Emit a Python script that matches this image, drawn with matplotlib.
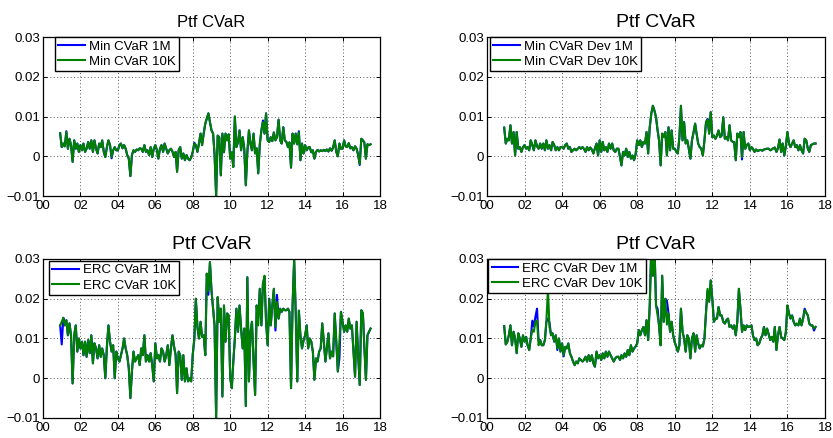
import pandas as pd
import matplotlib
matplotlib.use("Agg")
import matplotlib.pyplot as plt
import matplotlib.dates as mdates
import matplotlib.ticker as mticker
from datetime import datetime

plt.rcParams['font.family'] = ['Liberation Sans', 'DejaVu Sans']

# Monthly observations, Dec 2000 .. Jul 2017
dates = pd.date_range('2000-12-01', periods=200, freq='MS')
SCALE = 1e-3  # series are stored in units of 0.001

min_cvar_1m = [
    5.8,
    2.3, 3.2, 2.5, 6.3, 1.9, 4.4, 2.8, -1.4, 4.0, 1.9, 3.2, 1.1,
    2.8, 1.5, 3.2, 1.1, 1.9, 3.6, 1.9, 4.0, 1.1, 4.0, 1.9, 0.7,
    3.2, 2.3, 4.0, 1.1, -0.2, 2.3, 4.0, 2.8, -0.5, 1.5, 2.3, 1.5,
    1.5, 2.8, 3.2, 2.0, 2.8, 1.9, 0.3, -0.6, -5.0, 0.3, 1.5, 1.1,
    1.7, 1.5, 2.0, 1.9, 1.1, 2.8, 1.1, 1.5, 0.3, 2.3, -0.2, 1.9,
    2.8, 1.5, -0.6, 1.9, 2.8, 1.1, 3.2, 1.9, 0.7, 1.5, 1.9, 1.2,
    -0.2, 1.1, -3.9, 1.5, 2.3, -0.6, 0.7, -1.0, 0.3, -0.6, -1.0, -0.3,
    1.1, 3.4, 2.8, 1.1, 3.2, 5.7, 2.8, 5.7, 8.2, 9.5, 10.8, 8.6,
    6.5, 5.7, 0.5, -10.0, 5.2, 4.8, -4.8, 5.7, 1.0, 5.7, 4.0, 5.5,
    -0.6, 1.0, -2.7, 10.0, 2.3, 3.5, 6.5, 1.5, 4.8, 2.0, -7.3, 1.0,
    6.5, 3.0, 1.5, 5.7, 0.7, 2.0, -4.3, 3.0, 6.5, 9.0, 5.7, 10.8,
    4.0, 3.6, 4.8, 3.8, 6.0, 4.0, 4.8, 9.2, 4.0, 3.2, 7.3, 4.0,
    3.6, 2.3, 3.5, -2.9, 5.7, 3.2, 5.7, 3.0, 6.3, -1.0, 3.2, 0.7,
    2.8, 1.5, 2.2, 2.3, 1.0, 1.5, -0.6, 1.1, 1.6, 1.2, 1.5, 1.3,
    1.6, 1.3, 1.7, 1.2, 2.0, 1.4, 2.2, 4.0, 1.1, 0.0, 3.2, 1.9,
    1.9, 4.0, 2.5, 2.3, 3.3, 2.0, 2.3, 1.5, 2.5, 1.9, 0.3, -2.2,
    4.4, 4.0, 3.5, -0.6, 3.0, 2.8, 3.0,
]
min_cvar_10k = [
    5.8,
    2.3, 3.2, 2.5, 6.1, 1.9, 4.4, 2.8, -1.4, 4.0, 1.9, 3.2, 1.1,
    2.8, 1.5, 3.2, 1.1, 1.9, 3.6, 1.9, 4.0, 1.1, 4.0, 1.9, 0.7,
    3.2, 2.3, 4.0, 1.1, -0.2, 2.3, 4.0, 2.8, -0.2, 1.5, 2.3, 1.5,
    1.5, 2.8, 3.2, 2.0, 2.8, 1.9, 0.3, -0.6, -5.0, 0.3, 1.5, 1.1,
    1.7, 1.5, 2.0, 1.9, 1.1, 2.8, 1.1, 1.5, 0.3, 2.3, -0.2, 1.9,
    2.8, 1.5, -0.6, 1.9, 2.8, 1.1, 3.2, 1.9, 0.7, 1.5, 1.9, 1.2,
    -0.2, 1.1, -3.9, 1.5, 2.3, -0.6, 0.7, -1.0, 0.3, -0.6, -1.0, -0.3,
    1.1, 3.2, 2.8, 1.1, 3.2, 5.7, 2.8, 5.7, 8.2, 9.5, 10.8, 8.6,
    6.5, 5.7, 0.5, -10.0, 5.2, 4.8, -4.8, 5.7, 1.0, 5.7, 4.0, 5.5,
    -0.6, 1.0, -2.7, 10.0, 2.3, 3.5, 6.5, 1.5, 4.8, 2.0, -7.3, 1.0,
    6.5, 3.0, 1.5, 5.7, 0.7, 2.0, -4.3, 3.0, 6.5, 8.6, 5.7, 10.8,
    4.0, 3.6, 4.8, 3.8, 6.0, 4.0, 4.8, 9.2, 4.0, 3.2, 7.3, 4.0,
    3.6, 2.3, 3.5, -2.7, 5.7, 3.2, 5.7, 3.0, 6.0, -1.0, 3.2, 0.7,
    2.8, 1.5, 2.2, 2.3, 1.0, 1.5, -0.6, 1.1, 1.6, 1.2, 1.5, 1.3,
    1.6, 1.3, 1.7, 1.2, 2.0, 1.4, 2.2, 4.0, 1.1, 0.0, 3.2, 1.9,
    1.9, 4.0, 2.5, 2.3, 3.3, 2.0, 2.3, 1.5, 2.5, 1.9, 0.3, -2.0,
    4.4, 4.0, 3.5, -0.6, 3.0, 2.8, 3.0,
]

min_cvar_dev_1m = [
    7.2,
    3.2, 4.4, 4.0, 7.8, 3.2, 6.1, 0.2, 6.1, 1.9, 2.3, 1.1, 2.3,
    2.8, 1.9, 2.3, 1.5, 4.0, 2.8, 1.5, 4.0, 2.5, 1.9, 3.2, 1.9,
    3.2, 1.5, 4.0, 1.9, 2.8, 1.5, 3.6, 2.8, 1.5, 2.3, 1.5, 2.3,
    2.3, 1.9, 2.8, 3.2, 1.9, 2.3, 1.1, 1.5, 1.9, 1.5, 1.9, 2.3,
    1.9, 2.3, 1.9, 1.1, 2.3, 1.5, 2.2, 1.7, 0.7, 2.0, 3.2, 0.2,
    4.0, 1.1, 3.6, 1.5, 2.3, 1.1, 3.2, 1.9, 3.2, 1.5, 1.1, 1.9,
    1.9, -0.2, -2.3, 1.1, 0.2, 1.9, -0.2, 1.1, -0.6, 0.2, -1.0, 0.5,
    4.0, 2.8, 4.0, 2.3, 3.6, 3.2, 6.1, 0.7, 7.3, 10.7, 12.7, 11.5,
    9.8, 6.5, 4.0, -2.3, 5.7, 4.8, 6.1, 0.2, 7.3, 1.5, 6.5, 1.9,
    1.9, 1.1, 0.7, 4.8, 12.7, 4.0, 8.6, 3.2, 4.0, 1.9, -0.6, 4.0,
    6.0, 8.2, 5.7, 3.2, 2.3, 1.9, 0.2, 4.0, 8.6, 9.4, 5.7, 11.1,
    4.8, 5.2, 4.4, 5.2, 6.5, 4.8, 5.2, 9.8, 4.4, 4.8, 4.0, 7.8,
    4.0, 3.6, 3.6, -1.0, 5.7, 4.8, 6.1, -0.8, 6.1, 1.9, 2.8, 3.2,
    1.5, 2.3, 1.9, 1.1, 1.7, 1.3, 1.5, 1.6, 1.4, 1.7, 1.8, 1.9,
    1.9, 1.5, 1.7, 2.0, 2.2, 1.1, 2.0, 4.2, 1.1, 3.2, 0.2, 2.5,
    6.1, 3.2, 2.3, 3.2, 4.0, 2.3, 2.8, 1.5, 2.8, 1.5, 0.7, 4.4,
    4.0, 1.9, 1.1, 2.8, 3.0, 3.2, 3.2,
]
min_cvar_dev_10k = [
    7.2,
    3.2, 4.4, 4.0, 7.8, 3.2, 6.1, 0.2, 6.1, 1.9, 2.3, 1.1, 2.3,
    2.8, 1.9, 2.3, 1.5, 4.0, 2.8, 1.5, 4.0, 2.5, 1.9, 3.2, 1.9,
    3.2, 1.5, 4.0, 1.9, 2.8, 1.5, 3.6, 2.8, 1.5, 2.3, 1.5, 2.3,
    2.3, 1.9, 2.8, 3.2, 1.9, 2.3, 1.1, 1.5, 1.9, 1.5, 1.9, 2.3,
    1.9, 2.3, 1.9, 1.1, 2.3, 1.5, 2.2, 1.7, 0.7, 2.0, 3.2, 0.2,
    4.0, 1.1, 3.6, 1.5, 2.3, 1.1, 3.2, 1.9, 3.2, 1.5, 1.1, 1.9,
    1.9, -0.2, -2.3, 1.1, 0.2, 1.9, -0.2, 1.1, -0.6, 0.2, -1.0, 0.5,
    4.0, 2.8, 4.0, 2.3, 3.6, 3.2, 6.1, 0.7, 7.3, 10.7, 12.7, 11.5,
    9.8, 6.5, 4.0, -2.3, 5.7, 4.8, 6.1, 0.2, 7.3, 1.5, 6.5, 1.9,
    1.9, 1.1, 0.7, 4.8, 12.7, 4.0, 8.6, 3.2, 4.0, 1.9, -0.6, 4.0,
    6.0, 8.2, 5.7, 3.2, 2.3, 1.9, 0.2, 4.0, 8.6, 9.2, 5.7, 11.1,
    4.8, 5.2, 4.4, 5.2, 6.5, 4.8, 5.2, 9.8, 4.4, 4.8, 4.0, 7.8,
    4.0, 3.6, 3.6, -1.0, 5.7, 4.8, 6.1, -0.2, 6.1, 1.9, 2.8, 3.2,
    1.5, 2.3, 1.9, 1.1, 1.7, 1.3, 1.5, 1.6, 1.4, 1.7, 1.8, 1.9,
    1.9, 1.5, 1.7, 2.0, 2.2, 1.1, 2.0, 4.2, 1.1, 3.2, 0.2, 2.5,
    6.1, 3.2, 2.3, 3.2, 4.0, 2.3, 2.8, 1.5, 2.8, 1.5, 0.7, 4.4,
    4.0, 1.9, 1.1, 2.8, 3.0, 3.2, 3.2,
]

erc_cvar_1m = [
    13.3,
    8.5, 15.2, 13.3, 14.6, 10.8, 13.8, 10.8, -1.3, 10.8, 13.3, 6.7, 10.0,
    7.5, 9.2, 5.8, 9.2, 5.4, 9.6, 6.3, 10.8, 3.75, 8.8, 7.5, 5.0,
    8.3, 5.4, 7.5, 5.8, 0.0, 8.0, 13.3, 9.2, 6.7, 8.3, 0.0, 6.7,
    5.0, 4.2, 5.8, 7.5, 10.0, 7.5, 5.8, 2.5, -5.0, 1.7, 6.7, 4.2,
    5.0, 5.8, 3.3, 7.5, 5.8, 10.8, 4.2, 5.8, 4.2, 6.3, 3.3, -0.8,
    8.8, 5.0, 5.8, 4.2, 7.5, 6.7, 4.2, 5.8, 8.3, 3.3, 7.5, 10.8,
    8.0, 5.8, -3.75, 6.7, 5.8, -0.4, 5.8, -0.8, 2.5, -0.8, 0.0, -0.8,
    6.0, 10.0, 20.0, 12.9, 10.0, 14.2, 10.4, 10.8, 5.8, 26.3, 21.0, 29.2,
    22.0, 17.5, 13.3, -10.0, 20.4, 14.2, 17.5, -4.6, 18.3, 9.2, 16.3, 15.8,
    0.0, -2.5, 4.0, 10.0, 17.5, 11.7, 18.3, 12.5, 7.5, 12.5, -7.0, 25.4,
    -0.8, 11.7, 14.2, 4.2, -4.2, 18.3, 15.0, 22.5, 13.3, 23.8, 25.3, 14.2,
    8.3, 20.0, 13.3, 18.3, 22.5, 12.0, 21.0, 15.0, 17.5, 16.7, 17.5, 17.1,
    17.1, 17.5, 16.7, -2.5, 18.3, 30.0, 16.7, -0.8, 17.0, 10.8, 7.5, 9.5,
    10.8, 13.3, 7.5, 10.0, 9.2, 6.7, -0.4, 5.0, 4.2, 6.7, 7.5, 13.8,
    9.2, 4.2, 7.5, 11.3, 5.0, 6.7, 5.5, 16.3, 9.2, 1.7, 5.0, 16.7,
    14.2, 11.7, 13.3, 11.7, 15.0, 12.5, 13.3, 7.0, 0.4, 14.2, 5.8, -1.7,
    17.1, 16.3, 8.0, -0.4, 10.8, 11.7, 12.5,
]
erc_cvar_10k = [
    13.3,
    14.2, 15.2, 13.3, 14.6, 10.8, 13.8, 10.8, -1.3, 10.8, 13.3, 6.7, 10.0,
    7.5, 9.2, 5.8, 9.2, 5.4, 9.6, 6.3, 10.8, 3.75, 8.8, 7.5, 5.0,
    8.3, 5.4, 7.5, 5.8, 0.0, 8.0, 13.3, 9.2, 6.7, 8.3, 0.0, 6.7,
    5.0, 4.2, 5.8, 7.5, 10.0, 7.5, 5.8, 2.5, -5.0, 1.7, 6.7, 4.2,
    5.0, 5.8, 3.3, 7.5, 5.8, 10.8, 4.2, 5.8, 4.2, 6.3, 3.3, -0.8,
    8.8, 5.0, 5.8, 4.2, 7.5, 6.7, 4.2, 5.8, 8.3, 3.3, 7.5, 10.8,
    8.0, 5.8, -3.75, 6.7, 5.8, -0.4, 5.8, -0.8, 2.5, -0.8, 0.0, -0.8,
    6.0, 10.0, 20.0, 12.9, 10.0, 14.2, 10.4, 10.8, 5.8, 26.3, 22.0, 29.2,
    22.0, 17.5, 13.3, -10.0, 20.4, 14.2, 17.5, -4.6, 18.3, 9.2, 16.3, 15.8,
    0.0, -2.5, 4.0, 10.0, 17.5, 11.7, 18.3, 12.5, 7.5, 12.5, -7.0, 25.4,
    -0.8, 11.7, 14.2, 4.2, -4.2, 18.3, 13.3, 22.5, 13.3, 23.8, 25.8, 14.2,
    8.3, 20.0, 13.3, 18.3, 22.5, 12.9, 19.2, 15.0, 17.5, 16.7, 17.5, 17.1,
    17.1, 17.5, 16.7, -2.5, 18.3, 30.0, 16.7, -0.8, 17.0, 10.8, 7.5, 9.5,
    10.8, 13.3, 7.5, 10.0, 9.2, 6.7, -0.4, 5.0, 4.2, 6.7, 7.5, 13.8,
    9.2, 4.2, 7.5, 11.3, 5.0, 6.7, 5.5, 16.3, 9.2, 1.7, 9.2, 16.7,
    14.2, 11.7, 13.3, 11.7, 15.0, 12.5, 13.3, 7.0, 0.4, 14.2, 5.8, -1.7,
    17.1, 16.3, 8.0, -0.4, 10.8, 11.7, 12.5,
]

erc_cvar_dev_1m = [
    13.1,
    8.5, 9.2, 10.8, 13.3, 8.3, 11.7, 10.0, 6.3, 11.3, 10.0, 7.9, 10.8,
    9.2, 10.4, 8.3, 7.1, 10.0, 14.5, 13.0, 15.5, 17.5, 9.5, 9.6, 8.3,
    8.3, 9.6, 14.2, 15.0, 14.0, 10.8, 11.3, 9.2, 10.8, 7.1, 10.0, 6.7,
    8.75, 5.5, 7.9, 7.5, 8.75, 6.3, 5.4, 4.2, 3.3, 4.2, 3.75, 5.0,
    4.6, 4.2, 4.6, 5.4, 4.2, 5.8, 4.3, 5.8, 3.75, 2.9, 6.7, 5.0,
    5.8, 4.6, 6.25, 5.0, 6.7, 5.4, 6.7, 5.8, 5.0, 4.2, 5.0, 5.4,
    5.4, 4.6, 5.8, 5.0, 6.25, 5.4, 7.1, 5.8, 8.3, 6.7, 7.5, 8.0,
    8.75, 12.1, 10.8, 12.1, 12.9, 10.8, 14.6, 9.6, 18.3, 33.0, 25.8, 34.0,
    18.3, 17.5, 13.3, 8.3, 25.8, 14.2, 20.0, 19.5, 16.3, 11.7, 14.2, 10.8,
    9.0, 7.9, 6.7, 8.3, 17.5, 11.7, 10.0, 6.7, 10.8, 10.0, 5.0, 10.0,
    11.3, 6.7, 10.8, 8.75, 7.5, 8.3, 8.0, 10.0, 16.7, 22.0, 19.5, 24.6,
    20.0, 14.2, 15.0, 15.0, 17.9, 15.8, 15.8, 14.2, 13.75, 14.6, 15.0, 12.9,
    13.3, 12.5, 13.3, 10.8, 14.2, 22.5, 17.5, 11.7, 13.3, 12.1, 13.3, 12.9,
    13.0, 13.3, 10.8, 9.6, 10.0, 8.3, 8.75, 10.0, 10.8, 12.9, 10.8, 12.5,
    11.0, 9.6, 10.4, 9.2, 12.9, 7.1, 10.8, 12.9, 10.4, 10.0, 9.6, 11.5,
    18.3, 16.3, 15.0, 15.8, 14.2, 13.3, 13.75, 13.3, 15.0, 13.3, 15.0, 17.5,
    16.5, 15.8, 13.75, 13.3, 13.3, 12.0, 12.9,
]
erc_cvar_dev_10k = [
    13.1,
    8.5, 9.2, 10.8, 13.3, 8.3, 11.7, 10.0, 6.3, 11.3, 10.0, 7.9, 10.8,
    9.2, 10.4, 8.3, 7.1, 10.0, 12.1, 11.7, 14.2, 14.5, 8.3, 9.6, 8.3,
    8.3, 9.6, 14.2, 22.5, 12.9, 10.8, 11.3, 9.2, 10.8, 7.5, 10.0, 6.7,
    8.75, 5.8, 7.9, 7.5, 8.75, 6.3, 5.4, 4.2, 3.3, 4.2, 3.75, 5.0,
    4.6, 4.2, 4.6, 5.4, 4.2, 5.8, 4.3, 5.8, 3.75, 2.9, 6.7, 5.0,
    5.8, 4.6, 6.25, 5.0, 6.7, 5.4, 6.7, 5.8, 5.0, 4.2, 5.0, 5.4,
    5.4, 4.6, 5.8, 5.0, 6.25, 5.4, 7.1, 5.8, 8.3, 6.7, 7.5, 8.0,
    8.75, 12.1, 10.8, 12.1, 12.9, 10.8, 14.6, 9.6, 18.3, 33.0, 25.8, 34.0,
    18.3, 15.8, 13.3, 8.3, 25.8, 14.2, 20.0, 13.5, 16.3, 11.7, 14.2, 10.8,
    9.0, 7.9, 6.7, 8.3, 17.5, 11.7, 10.0, 6.7, 10.8, 10.0, 5.0, 10.0,
    11.3, 6.7, 10.8, 8.75, 7.5, 8.3, 8.0, 10.0, 16.7, 22.5, 19.2, 24.6,
    20.0, 14.2, 15.0, 15.0, 17.9, 15.8, 15.8, 14.2, 13.75, 14.6, 15.0, 12.9,
    13.3, 12.5, 13.3, 10.8, 14.2, 22.5, 17.5, 11.7, 13.3, 12.1, 13.3, 12.9,
    13.0, 13.3, 10.8, 9.6, 10.0, 8.3, 8.75, 10.0, 10.8, 12.9, 10.8, 12.5,
    11.0, 9.6, 10.4, 9.2, 12.9, 7.1, 10.8, 12.9, 10.4, 10.0, 9.6, 11.5,
    18.3, 16.3, 15.0, 15.8, 14.2, 13.3, 13.75, 13.3, 15.0, 13.3, 15.0, 17.1,
    16.5, 15.8, 13.75, 13.3, 13.3, 12.5, 12.9,
]

panels = [
    # (axes rect, 1M series, 10K series, legend labels, legend anchor, title size)
    ([0.0516, 0.5525, 0.4046, 0.363], min_cvar_1m, min_cvar_10k,
     ('Min CVaR 1M', 'Min CVaR 10K'), (0.036, 1.0), 12),
    ([0.5846, 0.5525, 0.4058, 0.363], min_cvar_dev_1m, min_cvar_dev_10k,
     ('Min CVaR Dev 1M', 'Min CVaR Dev 10K'), (0.009, 1.0), 14),
    ([0.0516, 0.0457, 0.4046, 0.363], erc_cvar_1m, erc_cvar_10k,
     ('ERC CVaR 1M', 'ERC CVaR 10K'), (0.018, 0.988), 14),
    ([0.5846, 0.0457, 0.4058, 0.363], erc_cvar_dev_1m, erc_cvar_dev_10k,
     ('ERC CVaR Dev 1M', 'ERC CVaR Dev 10K'), (0.004, 1.0), 14),
]

y_ticks = [-0.01, 0.0, 0.01, 0.02, 0.03]


def ytick_fmt(v, _pos):
    if abs(v) < 1e-12:
        return '0'
    return f'{v:.2f}'.replace('-', '\u2212')


fig = plt.figure(figsize=(8.33, 4.38), dpi=100)

for rect, s1m, s10k, labels, anchor, tsize in panels:
    ax = fig.add_axes(rect)
    y1 = [v * SCALE for v in s1m]
    y2 = [v * SCALE for v in s10k]
    ax.plot(dates, y1, color='#0000ff', lw=1.5, label=labels[0])
    ax.plot(dates, y2, color='#008000', lw=1.5, label=labels[1])

    ax.set_xlim(datetime(2000, 1, 1), datetime(2018, 1, 1))
    ax.set_ylim(-0.01, 0.03)
    ax.xaxis.set_major_locator(mdates.YearLocator(2))
    ax.xaxis.set_major_formatter(mdates.DateFormatter('%y'))
    ax.set_yticks(y_ticks)
    ax.yaxis.set_major_formatter(mticker.FuncFormatter(ytick_fmt))

    ax.grid(True, color='0.35', linestyle=(0, (1, 2.5)), linewidth=0.7)
    ax.tick_params(direction='in', length=3, width=0.7, top=True, right=True,
                   labelsize=9.5, colors='black')
    ax.tick_params(axis='x', pad=3)
    ax.tick_params(axis='y', pad=2)
    for sp in ax.spines.values():
        sp.set_linewidth(0.9)
        sp.set_color('black')

    ax.set_title('Ptf CVaR', fontsize=tsize, pad=7)
    leg = ax.legend(loc='upper left', bbox_to_anchor=anchor, borderaxespad=0,
                    fontsize=9.5, frameon=True, fancybox=False,
                    edgecolor='black', framealpha=1, handlelength=2.0,
                    handletextpad=0.3, borderpad=0.25, labelspacing=0.25)
    leg.get_frame().set_linewidth(1.0)

fig.savefig('out.png', dpi=100)
